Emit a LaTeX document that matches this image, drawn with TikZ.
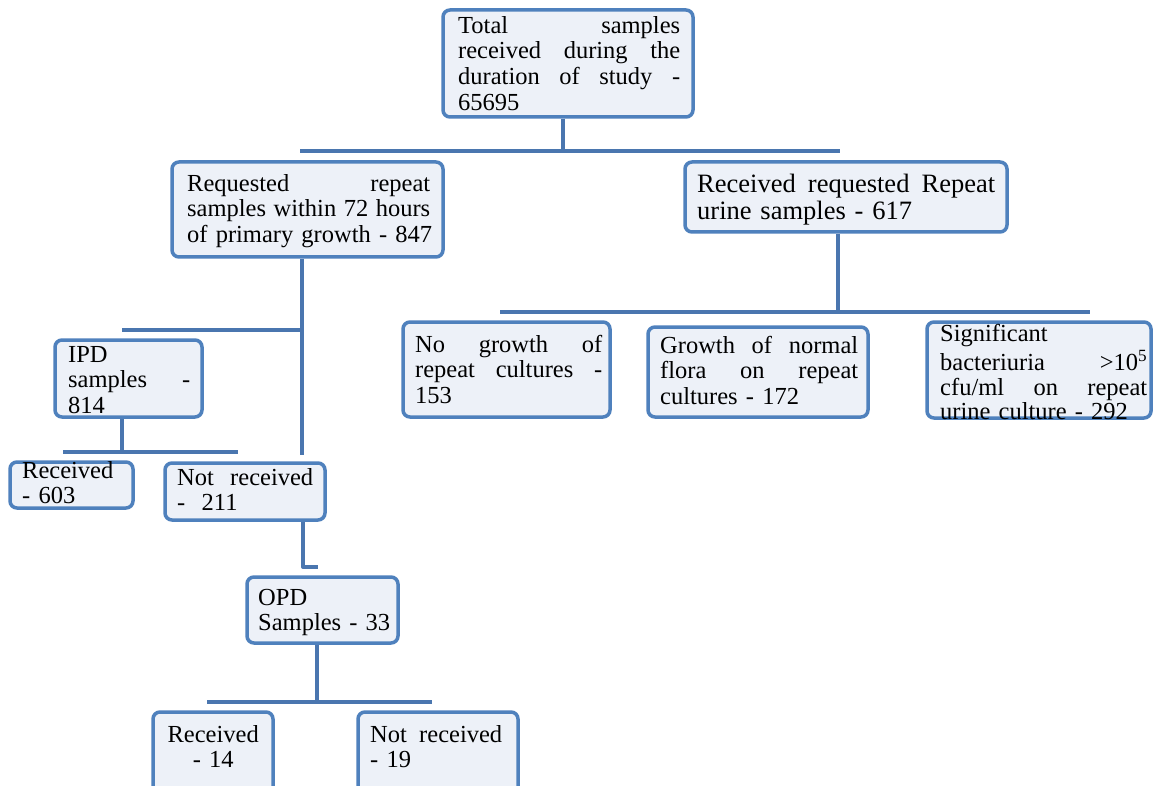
\documentclass[tikz,border=0pt]{standalone}
\usepackage{fontspec}
\setmainfont{Liberation Serif}
\setlength{\parindent}{0pt}
\definecolor{boxblue}{HTML}{4F81BD}
\definecolor{connblue}{HTML}{4A76AF}
\definecolor{boxfill}{HTML}{EDF1F8}
\newcommand{\jline}[1]{\hbox to \hsize{\spaceskip=0.25em plus 1fil\relax #1}\par}
\newcommand{\lline}[1]{\mbox{#1}\par}
\begin{document}
\begin{tikzpicture}[x=1pt,y=-1pt,
  box/.style={draw=boxblue, fill=boxfill, line width=3.5pt, rounded corners=7pt, inner sep=0pt},
  txt/.style={anchor=north west, inner sep=0pt, font=\fontsize{24.5}{25.7}\selectfont, text width=#1},
  conn/.style={draw=connblue, line width=4pt, line join=round}]
\useasboundingbox (0,0) rectangle (1153,786);
\fill[white] (0,0) rectangle (1153,786);
\clip (0,0) rectangle (1153,786);

% boxes
\node[box, minimum width=250pt, minimum height=107pt] (tot) at (568,63.5) {};
\node[box, minimum width=271pt, minimum height=95pt] (req) at (307.5,209.5) {};
\node[box, minimum width=322pt, minimum height=70pt] (rcv) at (846,197) {};
\node[box, minimum width=207pt, minimum height=95pt] (nog) at (506.5,369.5) {};
\node[box, minimum width=220pt, minimum height=90pt] (gro) at (758,372) {};
\node[box, minimum width=224pt, minimum height=96pt] (sig) at (1039,370) {};
\node[box, minimum width=147pt, minimum height=77pt] (ipd) at (128.5,378.5) {};
\node[box, minimum width=123pt, minimum height=46pt] (rA) at (71.5,485) {};
\node[box, minimum width=160pt, minimum height=57pt] (nA) at (245,491.5) {};
\node[box, minimum width=151pt, minimum height=66pt] (opd) at (322.5,610) {};
\node[box, minimum width=120pt, minimum height=88pt] (rB) at (213,756) {};
\node[box, minimum width=160pt, minimum height=88pt] (nB) at (438,756) {};

% texts
\node[txt=222pt] (totT) at (458,15) {\strut\jline{Total samples}\jline{received during the}\jline{duration of study -}\lline{65695}};
\node[txt=243pt] (reqT) at (187,173) {\strut\jline{Requested repeat}\jline{samples within 72 hours}\lline{of primary growth - 847}};
\node[txt=298pt, font=\fontsize{26.5}{26}\selectfont] (rcvT) at (697,174) {\strut\jline{Received requested Repeat}\lline{urine samples - 617}};
\node[txt=187pt] (nogT) at (415,334) {\strut\jline{No growth of}\jline{repeat cultures -}\lline{153}};
\node[txt=198pt] (groT) at (660,335) {\strut\jline{Growth of normal}\jline{flora on repeat}\lline{cultures - 172}};
\node[txt=207pt, font=\fontsize{24.5}{24.8}\selectfont] (sigT) at (940,324) {\strut\lline{Significant}\jline{bacteriuria >10\textsuperscript{5}}\jline{cfu/ml on repeat}\lline{urine culture - 292}};
\node[txt=122pt] (ipdT) at (68,344) {\strut\lline{IPD}\jline{samples -}\lline{814}};
\node[txt=110pt] (rAT) at (22,460) {\strut\lline{Received}\lline{- 603}};
\node[txt=136pt] (nAT) at (177,467) {\strut\jline{Not received}\lline{-\ \ 211}};
\node[txt=130pt] (opdT) at (258,587) {\strut\lline{OPD}\lline{Samples - 33}};
\node[txt=110pt, align=center] (rBT) at (158,724) {\strut Received\par - 14};
\node[txt=132pt] (nBT) at (370,724) {\strut\jline{Not received}\lline{- 19}};

% connector points
\coordinate (b1M) at (563,151);
\coordinate (b1L) at (300,151);
\coordinate (b1R) at (840,151);
\coordinate (v2) at (302,455);
\coordinate (b2L) at (122,330);
\coordinate (b2R) at (302,330);
\coordinate (v3) at (122,452);
\coordinate (b3L) at (63,452);
\coordinate (b3R) at (238,452);
\coordinate (k4) at (303,567);
\coordinate (h4) at (318,567);
\coordinate (v5) at (317,702);
\coordinate (b5L) at (207,702);
\coordinate (b5R) at (432,702);
\coordinate (v6) at (838,312);
\coordinate (b6L) at (500,312);
\coordinate (b6R) at (1090,312);

% connectors
\draw[conn] (b1M |- tot.south) -- (b1M);
\draw[conn] (b1L) -- (b1R);
\draw[conn] (v2 |- req.south) -- (v2);
\draw[conn] (b2L) -- (b2R);
\draw[conn] (v3 |- ipd.south) -- (v3);
\draw[conn] (b3L) -- (b3R);
\draw[conn] (k4 |- nA.south) -- (k4) -- (h4);
\draw[conn] (v5 |- opd.south) -- (v5);
\draw[conn] (b5L) -- (b5R);
\draw[conn] (v6 |- rcv.south) -- (v6);
\draw[conn] (b6L) -- (b6R);
\end{tikzpicture}
\end{document}
